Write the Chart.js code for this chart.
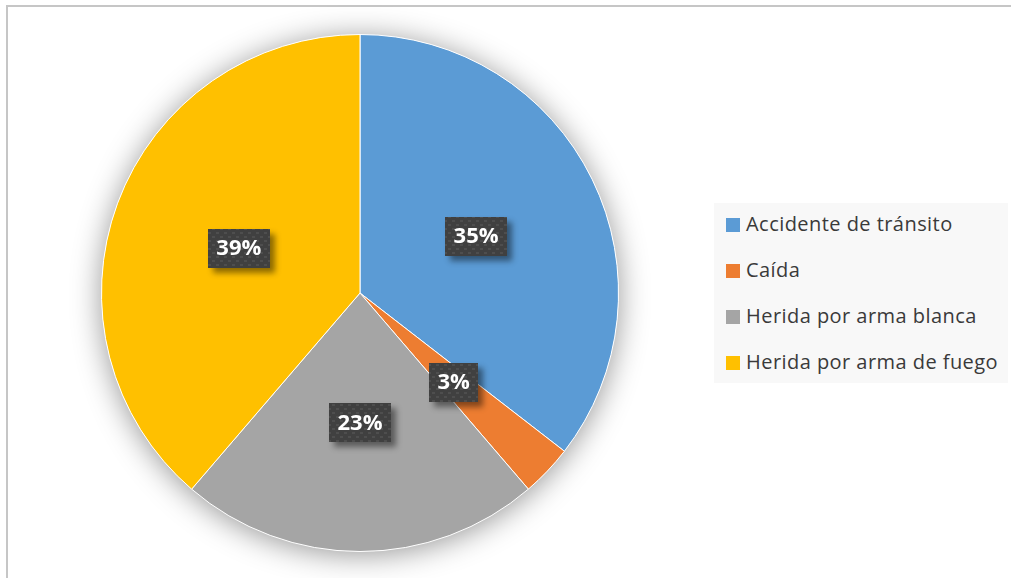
<!DOCTYPE html>
<html>
<head>
<meta charset="utf-8">
<script src="https://cdn.jsdelivr.net/npm/chart.js@4.4.1/dist/chart.umd.min.js"></script>
<style>
  html, body { margin: 0; padding: 0; background: #fff; }
  #wrap { position: relative; width: 1011px; height: 578px; overflow: hidden; }
  #frame { position: absolute; left: 6px; top: 5px; width: 1020px; height: 600px;
           border-left: 2px solid #c6c6c6; border-top: 2px solid #c6c6c6; box-sizing: border-box; }
  #pieChart { position: absolute; left: 0; top: 0; }
  #legend { position: absolute; left: 714px; top: 203px; width: 294px; height: 180px;
            background: #f8f8f8; font-family: "Open Sans", sans-serif; font-size: 20px;
            letter-spacing: 0.45px; color: #3a3a3a; }
  .item { position: absolute; left: 12px; height: 26px; line-height: 26px; white-space: nowrap; }
  .item span { display: inline-block; width: 14px; height: 14px; margin-right: 6px; vertical-align: -1px; }
</style>
</head>
<body>
<div id="wrap">
  <div id="frame"></div>
  <canvas id="pieChart" width="1011" height="578"></canvas>
  <div id="legend"></div>
</div>
<script>
// Data (case counts, shown as percentages)
const categories = ['Accidente de tránsito', 'Caída', 'Herida por arma blanca', 'Herida por arma de fuego'];
const cases = [11, 1, 7, 12];
const sliceColors = ['#5b9bd5', '#ed7d31', '#a5a5a5', '#ffc000'];

const total = cases.reduce((a, b) => a + b, 0);

// Legend built from the same arrays
const legend = document.getElementById('legend');
categories.forEach((name, i) => {
    const item = document.createElement('div');
    item.className = 'item';
    item.style.top = (8 + i * 46) + 'px';
    item.innerHTML = '<span style="background:' + sliceColors[i] + '"></span>' + name;
    legend.appendChild(item);
});

// dotted pattern for the label boxes
function makePattern(ctx) {
    const p = document.createElement('canvas');
    p.width = 8; p.height = 8;
    const pc = p.getContext('2d');
    pc.fillStyle = '#404040';
    pc.fillRect(0, 0, 8, 8);
    pc.fillStyle = '#4e4e4e';
    pc.fillRect(0, 0, 3, 2);
    pc.fillRect(4, 4, 3, 2);
    return ctx.createPattern(p, 'repeat');
}

// soft shadow behind the whole pie
const pieShadow = {
    id: 'pieShadow',
    beforeDatasetsDraw(chart) {
        const arc = chart.getDatasetMeta(0).data[0];
        if (!arc) return;
        const ctx = chart.ctx;
        ctx.save();
        ctx.shadowColor = 'rgba(0,0,0,0.42)';
        ctx.shadowBlur = 30;
        ctx.shadowOffsetY = 3;
        ctx.fillStyle = '#ffffff';
        ctx.beginPath();
        ctx.arc(arc.x, arc.y, arc.outerRadius, 0, Math.PI * 2);
        ctx.fill();
        ctx.restore();
    }
};

// percentage boxes on each slice
const boxLabels = {
    id: 'boxLabels',
    afterDatasetsDraw(chart) {
        const ctx = chart.ctx;
        const pattern = makePattern(ctx);
        chart.getDatasetMeta(0).data.forEach((arc, i) => {
            const pos = arc.getCenterPoint();
            const text = Math.round(cases[i] / total * 100) + '%';
            ctx.save();
            ctx.font = 'bold 22px "Open Sans"';
            const w = Math.round(ctx.measureText(text).width + 17);
            const h = 39;
            const x = Math.round(pos.x - w / 2), y = Math.round(pos.y - h / 2);
            ctx.shadowColor = 'rgba(0,0,0,0.45)';
            ctx.shadowBlur = 6;
            ctx.shadowOffsetX = 5;
            ctx.shadowOffsetY = 5;
            ctx.fillStyle = '#404040';
            ctx.fillRect(x, y, w, h);
            ctx.shadowColor = 'transparent';
            ctx.fillStyle = pattern;
            ctx.fillRect(x, y, w, h);
            ctx.fillStyle = '#ffffff';
            ctx.textAlign = 'center';
            ctx.textBaseline = 'middle';
            ctx.fillText(text, pos.x, pos.y + 1);
            ctx.restore();
        });
    }
};

const chart = new Chart(document.getElementById('pieChart').getContext('2d'), {
    type: 'pie',
    data: {
        labels: categories,
        datasets: [{
            data: cases,
            backgroundColor: sliceColors,
            borderColor: '#ffffff',
            borderWidth: 1
        }]
    },
    options: {
        responsive: false,
        animation: false,
        layout: { padding: { left: 101, right: 392, top: 34, bottom: 26 } },
        plugins: {
            legend: { display: false },
            tooltip: { enabled: false }
        }
    },
    plugins: [pieShadow, boxLabels]
});
</script>
</body>
</html>
